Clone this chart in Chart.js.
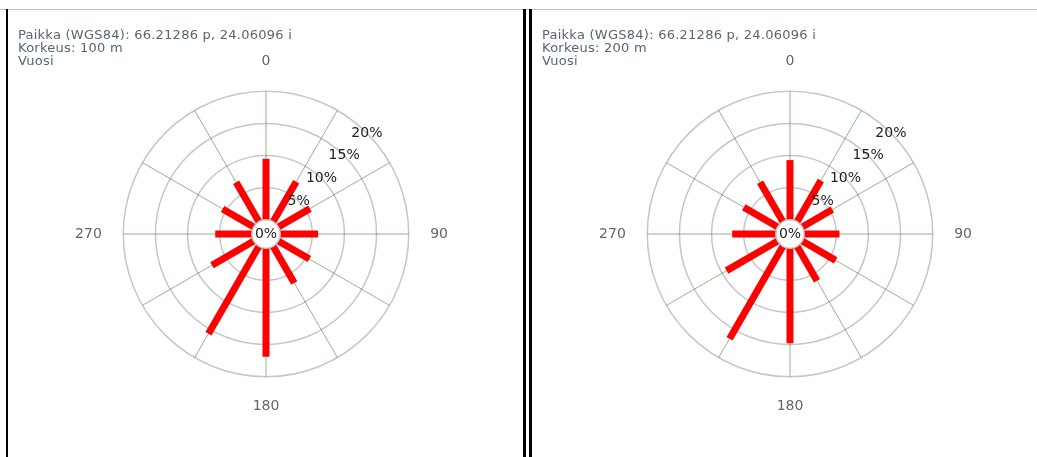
<!DOCTYPE html>
<html lang="fi">
<head>
<meta charset="utf-8">
<title>Tuuliruusu</title>
<script src="https://cdn.jsdelivr.net/npm/chart.js@4.4.1/dist/chart.umd.min.js"></script>
<style>
  html, body { margin: 0; padding: 0; background: #fff; overflow: hidden; }
  body { width: 1037px; height: 457px; position: relative; font-family: "DejaVu Sans", Verdana, sans-serif; }
  .topline { position: absolute; left: 0; top: 9px; width: 1037px; height: 1px; background: #c4c4c4; }
  .vline { position: absolute; top: 9px; height: 448px; background: #000; }
  .panel { position: absolute; top: 10px; width: 514px; height: 447px; }
  .info { position: absolute; top: 28px; font-size: 13px; line-height: 13px; letter-spacing: 0.25px; color: #5a6571; white-space: pre; }
</style>
</head>
<body>
<div class="topline"></div>
<div class="vline" style="left:6px;width:2px"></div>
<div class="vline" style="left:523px;width:3px"></div>
<div class="vline" style="left:529px;width:3px"></div>

<div class="panel" style="left:9px"><canvas id="rose100"></canvas></div>
<div class="panel" style="left:533px"><canvas id="rose200"></canvas></div>

<div class="info" style="left:18px">Paikka (WGS84): 66.21286 p, 24.06096 i
Korkeus: 100 m
Vuosi</div>
<div class="info" style="left:542px">Paikka (WGS84): 66.21286 p, 24.06096 i
Korkeus: 200 m
Vuosi</div>

<script>
// Tuulen suunnat (astetta) ja suuntien osuudet (%)
const directions = [0, 30, 60, 90, 120, 150, 180, 210, 240, 270, 300, 330];
const freq100m = [9.5, 7.2, 5.7, 5.9, 5.6, 6.6, 16.9, 15.7, 7.5, 5.7, 5.6, 7.1];
const freq200m = [9.3, 7.4, 5.4, 5.5, 6.0, 6.2, 14.8, 16.6, 9.2, 6.8, 6.1, 7.1];
const ringTicks = [0, 5, 10, 15, 20];
const axisLabels = ['0', '90', '180', '270'];

Chart.defaults.font.family = '"DejaVu Sans", Verdana, sans-serif';

/**
 * Piirretään sektoripalkit, keskiympyrä ja prosenttiluvut
 */
const roseBars = {
    id: 'roseBars',
    afterDatasetsDraw(chart) {
        const scale = chart.scales.r;
        const ctx = chart.ctx;
        const meta = chart.getDatasetMeta(0);

        ctx.save();

        // palkit 0 %:sta arvoon asti
        ctx.strokeStyle = '#ff0000';
        ctx.lineWidth = 7;
        ctx.lineCap = 'butt';
        meta.data.forEach(function(pt, i) {
            const base = scale.getPointPositionForValue(i, 0);
            ctx.beginPath();
            ctx.moveTo(base.x, base.y);
            ctx.lineTo(pt.x, pt.y);
            ctx.stroke();
        });

        // valkoinen keskiympyrä
        const r0 = scale.getDistanceFromCenterForValue(0);
        ctx.beginPath();
        ctx.arc(scale.xCenter, scale.yCenter, r0, 0, Math.PI * 2);
        ctx.fillStyle = '#ffffff';
        ctx.fill();
        ctx.lineWidth = 1.5;
        ctx.strokeStyle = '#c6c6c6';
        ctx.stroke();

        // prosentit 45 asteen kulmassa
        ctx.font = '14px "DejaVu Sans"';
        ctx.fillStyle = '#222222';
        ctx.textAlign = 'center';
        ctx.textBaseline = 'middle';
        const a = Math.PI / 4;
        ringTicks.forEach(function(v) {
            const d = v === 0 ? 0 : scale.getDistanceFromCenterForValue(v);
            ctx.fillText(v + '%', scale.xCenter + d * Math.sin(a), scale.yCenter - d * Math.cos(a));
        });

        ctx.restore();
    }
};

function makeRose(canvasId, values) {
    return new Chart(document.getElementById(canvasId), {
        type: 'radar',
        data: {
            labels: directions.map(String),
            datasets: [{
                data: values,
                showLine: false,
                fill: false,
                borderWidth: 0,
                pointRadius: 0,
                pointHoverRadius: 0
            }]
        },
        options: {
            responsive: true,
            maintainAspectRatio: false,
            animation: false,
            layout: { padding: { top: 44, bottom: 41, left: 0, right: 0 } },
            plugins: {
                legend: { display: false },
                tooltip: { enabled: false }
            },
            scales: {
                r: {
                    min: -2.2,
                    max: 20,
                    afterBuildTicks: function(scale) {
                        scale.ticks = ringTicks.map(v => ({ value: v }));
                    },
                    ticks: { display: false },
                    grid: { circular: true, color: '#c6c6c6', lineWidth: 1.5 },
                    angleLines: { color: 'rgba(40,130,40,0.55)', lineWidth: 1 },
                    pointLabels: {
                        padding: 21.5,
                        color: '#666666',
                        font: { size: 14 },
                        callback: function(label) {
                            return axisLabels.includes(label) ? label : '';
                        }
                    }
                }
            }
        },
        plugins: [roseBars]
    });
}

makeRose('rose100', freq100m);
makeRose('rose200', freq200m);
</script>
</body>
</html>
